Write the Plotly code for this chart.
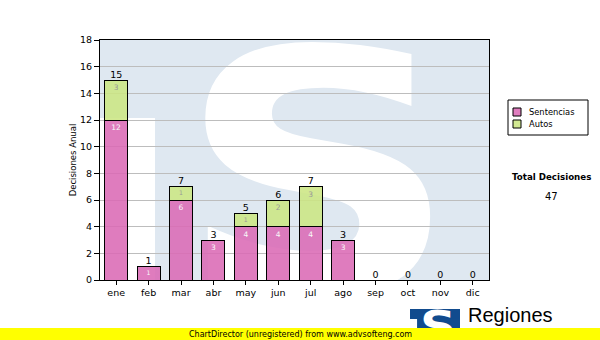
import base64
import plotly.graph_objects as go

months = ["ene", "feb", "mar", "abr", "may", "jun", "jul", "ago", "sep", "oct", "nov", "dic"]
sentencias = [12, 1, 6, 3, 4, 4, 4, 3, 0, 0, 0, 0]
autos = [3, 0, 1, 0, 1, 2, 3, 0, 0, 0, 0, 0]
y_ticks = [0, 2, 4, 6, 8, 10, 12, 14, 16, 18]
series_names = ["Sentencias", "Autos"]

totals = [s + a for s, a in zip(sentencias, autos)]
grand_total = sum(totals)

W, H = 600, 340
L, R, T, B = 100, 489, 40, 280  # plot area in page pixels
PW, PH = R - L, B - T


def px(X):
    return (X - L) / PW


def py(Y):
    return (B - Y) / PH


def logo_svg(color, vb_h):
    svg = f'''<svg xmlns="http://www.w3.org/2000/svg" width="{PW}" height="{vb_h}" viewBox="0 0 {PW} {vb_h}">
<rect x="0" y="0" width="{PW}" height="78" fill="{color}"/>
<rect x="55" y="78" width="{PW-55}" height="400" fill="{color}"/>
<g transform="translate(218,252) scale(1.16,1)">
<text x="0" y="0" text-anchor="middle" font-family="DejaVu Sans" font-weight="bold" font-size="337" fill="#ffffff">S</text>
</g></svg>'''
    return "data:image/svg+xml;base64," + base64.b64encode(svg.encode()).decode()


pink = "rgba(219,106,181,0.88)"
green = "rgba(204,230,131,0.88)"
colors = [pink, green]
FONT = "DejaVu Sans"

fig = go.Figure()
fig.add_trace(go.Bar(
    x=months, y=sentencias, name=series_names[0],
    marker=dict(color=pink, line=dict(color="black", width=1)),
    text=[str(v) if v else "" for v in sentencias],
    textposition="inside", insidetextanchor="end", textangle=0,
    insidetextfont=dict(family=FONT, size=7.5, color="#f8f8f8"),
    hoverinfo="skip", showlegend=False,
))
fig.add_trace(go.Bar(
    x=months, y=autos, name=series_names[1],
    marker=dict(color=green, line=dict(color="black", width=1)),
    text=[str(v) if v else "" for v in autos],
    textposition="inside", insidetextanchor="end", textangle=0,
    insidetextfont=dict(family=FONT, size=7.5, color="#999999"),
    hoverinfo="skip", showlegend=False,
))
fig.add_trace(go.Scatter(
    x=months, y=totals, mode="text", text=[str(t) for t in totals],
    textposition="top center", textfont=dict(family=FONT, size=9.5, color="black"),
    showlegend=False, cliponaxis=False, hoverinfo="skip",
))

shapes = [
    dict(type="rect", xref="paper", yref="paper",
         x0=px(0), x1=px(W), y0=py(328), y1=py(341),
         fillcolor="#ffff00", line=dict(width=0), layer="above"),
    # legend box
    dict(type="rect", xref="paper", yref="paper",
         x0=px(508), x1=px(588), y0=py(100), y1=py(135),
         fillcolor="white", line=dict(color="black", width=1), layer="above"),
]
annotations = [
    dict(text="<b>Total Decisiones</b>", xref="paper", yref="paper",
         x=px(551), y=py(177), xanchor="center", yanchor="middle", showarrow=False,
         font=dict(family=FONT, size=8.7, color="black")),
    dict(text=str(grand_total), xref="paper", yref="paper",
         x=px(551), y=py(196), xanchor="center", yanchor="middle", showarrow=False,
         font=dict(family=FONT, size=10, color="black")),
    dict(text="Regiones", xref="paper", yref="paper",
         x=px(466), y=py(315), xanchor="left", yanchor="middle", showarrow=False,
         font=dict(family="Liberation Sans", size=20, color="black")),
    dict(text="ChartDirector (unregistered) from www.advsofteng.com",
         xref="paper", yref="paper", x=px(300), y=py(334), xanchor="center",
         yanchor="middle", showarrow=False,
         font=dict(family=FONT, size=8, color="black")),
]
for i, (name, col) in enumerate(zip(series_names, colors)):
    yc = 112 + 12 * i
    shapes.append(dict(type="rect", xref="paper", yref="paper",
                       x0=px(513), x1=px(521), y0=py(yc - 4), y1=py(yc + 4),
                       fillcolor=col, line=dict(color="black", width=1), layer="above"))
    annotations.append(dict(text=name, xref="paper", yref="paper",
                            x=px(527), y=py(yc), xanchor="left", yanchor="middle",
                            showarrow=False, font=dict(family=FONT, size=8.3, color="black")))

fig.update_layout(
    width=W, height=H,
    margin=dict(l=L, r=W - R, t=T, b=H - B, pad=0, autoexpand=False),
    paper_bgcolor="white", plot_bgcolor="rgba(0,0,0,0)",
    barmode="stack", bargap=0.29,
    font=dict(family=FONT, size=9.5, color="black"),
    showlegend=False,
    xaxis=dict(
        type="category", range=[-0.5, 11.5],
        showline=True, linecolor="black", linewidth=1, mirror=True,
        ticks="outside", ticklen=4, tickcolor="black",
        showgrid=False, fixedrange=True,
    ),
    yaxis=dict(
        range=[0, 18], tickvals=y_ticks,
        showline=True, linecolor="black", linewidth=1, mirror=True,
        ticks="outside", ticklen=5, tickcolor="black",
        showgrid=True, gridcolor="#bdbdbd", gridwidth=1, zeroline=False,
        title=dict(text="Decisiones Anual", font=dict(family=FONT, size=8.5), standoff=2),
        fixedrange=True,
    ),
    images=[
        dict(source=logo_svg("#dfe8f1", PH), xref="paper", yref="paper",
             x=0, y=1, sizex=1, sizey=1, xanchor="left", yanchor="top",
             sizing="stretch", layer="below"),
        dict(source=logo_svg("#114b8e", 148), xref="paper", yref="paper",
             x=px(410), y=py(309), sizex=50 / PW, sizey=19 / PH,
             xanchor="left", yanchor="top", sizing="stretch", layer="above"),
    ],
    shapes=shapes,
    annotations=annotations,
)

fig.write_html("out.html")
